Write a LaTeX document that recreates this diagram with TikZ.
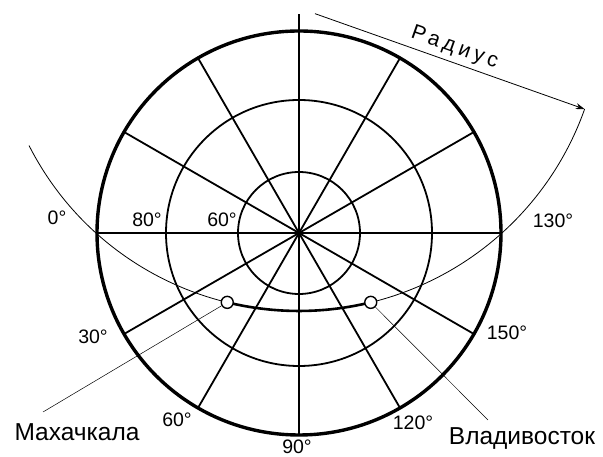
\documentclass[tikz,border=0pt]{standalone}
\usepackage{fontspec}
\setmainfont{Liberation Sans}
\usetikzlibrary{arrows.meta, positioning, calc}

\begin{document}
\begin{tikzpicture}[x=1pt, y=1pt, >={Stealth[length=9pt, width=6pt]},
  grid/.style={line width=1.8pt},
  deg/.style={font=\fontsize{19.5}{20}\selectfont},
  city/.style={circle, draw, line width=1.4pt, fill=white, inner sep=0pt, minimum size=12pt},
  cityname/.style={font=\fontsize{24.5}{25}\selectfont}]
  \useasboundingbox (0,0) rectangle (603,457);
  \begin{scope}[shift={(299,224)}]
  % Parallels
  \draw[line width=3.4pt] (0,0) circle (202);
  \draw[grid] (0,0) circle (133);
  \draw[grid] (0,0) circle (61);
  % Meridians every 30 degrees
  \foreach \a in {0,30,...,150}
    \draw[grid] (\a:202) -- (\a+180:202);
  \draw[grid] (0,202) -- (0,219);
  % Great-circle arc drawn with the compass
  \coordinate (arcc) at (0,225);
  \draw[line width=0.8pt] ($(arcc)+(207:303)$) arc (207:340.5:303);
  \draw[line width=2.6pt] ($(arcc)+(256.3:303)$) arc (256.3:283.7:303);
  % Radius
  \coordinate (rstart) at ($(arcc)+(340.5:17)$);
  \coordinate (rend) at ($(arcc)+(340.5:303)$);
  \draw[->, line width=0.8pt] (rstart) -- (rend)
    node[pos=0.5, above=1pt, sloped,
      font=\fontsize{21}{21}\selectfont\addfontfeatures{LetterSpace=20}] (radlabel) {Радиус};
  % Cities
  \node[city] (mkh) at ($(arcc)+(256.3:303)$) {};
  \node[city] (vld) at ($(arcc)+(283.7:303)$) {};
  \coordinate (mkhend) at (-256,-179);
  \coordinate (vldend) at (189,-187);
  \draw[line width=0.5pt] (mkh) -- (mkhend);
  \draw[line width=0.5pt] (vld) -- (vldend);
  \node[cityname] (mkhname) at (-222,-199) {Махачкала};
  \node[cityname] (vldname) at (223,-206) {Владивосток};
  % Degree labels
  \node[deg] (d0) at (-242,15) {0°};
  \node[deg] (d80) at (-152,13) {80°};
  \node[deg] (d60) at (-77,13) {60°};
  \node[deg] (d30) at (-206,-104) {30°};
  \node[deg] (d60b) at (-122,-187) {60°};
  \node[deg] (d90) at (-2,-214) {90°};
  \node[deg] (d120) at (114,-190) {120°};
  \node[deg] (d150) at (208,-100) {150°};
  \node[deg] (d130) at (254,12) {130°};
  \end{scope}
\end{tikzpicture}
\end{document}
